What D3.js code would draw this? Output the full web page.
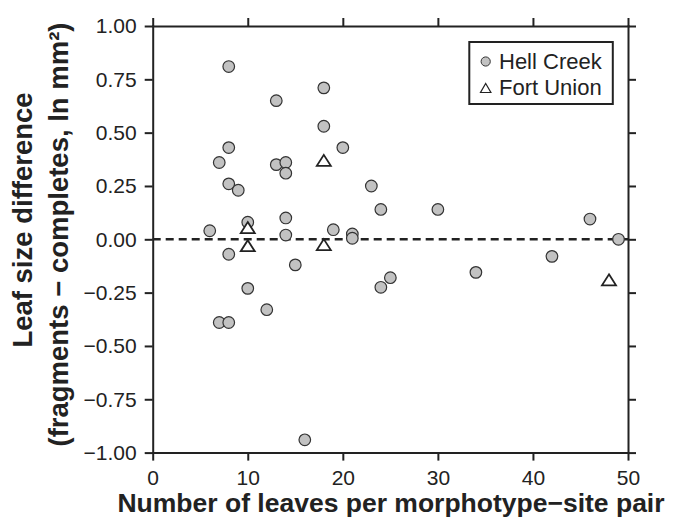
<!DOCTYPE html>
<html>
<head>
<meta charset="utf-8">
<script src="https://cdn.jsdelivr.net/npm/d3@7"></script>
<style>
  html, body { margin: 0; padding: 0; background: #fff; }
  svg { display: block; font-family: "Liberation Sans", Arial, Helvetica, sans-serif; }
</style>
</head>
<body>
<div id="chart"></div>
<script>
/* global d3 */

// Hell Creek morphotype-site pairs: leaves per pair, size difference (ln mm2)
const hellCreekLeaves = [6, 7, 7, 8, 8, 8, 8, 8, 9, 10, 10, 12, 13, 13, 14, 14, 14, 14,
  15, 16, 18, 18, 19, 20, 21, 21, 23, 24, 24, 25, 30, 34, 42, 46, 49];
const hellCreekDiff = [0.04, 0.36, -0.39, 0.81, 0.43, 0.26, -0.07, -0.39, 0.23, 0.08, -0.23,
  -0.33, 0.65, 0.35, 0.36, 0.31, 0.10, 0.02, -0.12, -0.94, 0.71, 0.53, 0.045, 0.43, 0.025,
  0.005, 0.25, 0.14, -0.225, -0.18, 0.14, -0.155, -0.08, 0.095, 0.0];

// Fort Union pairs
const fortUnionLeaves = [10, 10, 18, 18, 48];
const fortUnionDiff = [0.055, -0.03, 0.37, -0.025, -0.19];

const xTicks = [0, 10, 20, 30, 40, 50];
const yTicks = [-1, -0.75, -0.5, -0.25, 0, 0.25, 0.5, 0.75, 1];

const width = 679;
const height = 519;
const ink = '#222';

const svg = d3.select('#chart').append('svg')
  .attr('width', width)
  .attr('height', height);

const x = d3.scaleLinear().domain([0, 50]).range([152.7, 628]);
const y = d3.scaleLinear().domain([-1, 1]).range([452.6, 26]);

// frame: four axes, ticks pointing out
const styleAxis = function styleAxis(g) {
  g.select('.domain')
    .attr('stroke', ink)
    .attr('stroke-width', 2)
    .attr('stroke-linecap', 'square');
  g.selectAll('.tick line')
    .attr('stroke', ink)
    .attr('stroke-width', 2);
  g.selectAll('.tick text')
    .attr('fill', ink)
    .attr('font-size', 21);
};

svg.append('g')
  .attr('transform', `translate(${x(0)},0)`)
  .call(d3.axisLeft(y).tickValues(yTicks).tickFormat(d3.format('.2f'))
    .tickSizeInner(8).tickSizeOuter(0).tickPadding(8))
  .call(styleAxis);

svg.append('g')
  .attr('transform', `translate(0,${y(-1)})`)
  .call(d3.axisBottom(x).tickValues(xTicks).tickFormat(d3.format('d'))
    .tickSizeInner(8).tickSizeOuter(0).tickPadding(9.5))
  .call(styleAxis);

svg.append('g')
  .attr('transform', `translate(0,${y(1)})`)
  .call(d3.axisTop(x).tickValues(xTicks).tickFormat('')
    .tickSizeInner(8).tickSizeOuter(0))
  .call(styleAxis);

svg.append('g')
  .attr('transform', `translate(${x(50)},0)`)
  .call(d3.axisRight(y).tickValues(yTicks).tickFormat('')
    .tickSizeInner(8).tickSizeOuter(0))
  .call(styleAxis);

svg.selectAll('.domain').raise();

// zero line
svg.append('line')
  .attr('x1', x(0))
  .attr('x2', x(50))
  .attr('y1', y(0))
  .attr('y2', y(0))
  .attr('stroke', ink)
  .attr('stroke-width', 2.5)
  .attr('stroke-dasharray', '8,5');

// points
const hellCreek = hellCreekLeaves.map((n, i) => [n, hellCreekDiff[i]]);
const fortUnion = fortUnionLeaves.map((n, i) => [n, fortUnionDiff[i]]);
const triangle = 'M0,-5.5L7,5.5L-7,5.5Z';

svg.append('g').selectAll('circle')
  .data(hellCreek)
  .enter().append('circle')
  .attr('cx', d => x(d[0]))
  .attr('cy', d => y(d[1]))
  .attr('r', 5.8)
  .attr('fill', '#c2c2c2')
  .attr('stroke', '#333')
  .attr('stroke-width', 1.2);

svg.append('g').selectAll('path')
  .data(fortUnion)
  .enter().append('path')
  .attr('d', triangle)
  .attr('transform', d => `translate(${x(d[0])},${y(d[1])})`)
  .attr('fill', '#fff')
  .attr('stroke', ink)
  .attr('stroke-width', 1.8);

// axis titles
svg.append('text')
  .attr('x', 391)
  .attr('y', 512)
  .attr('text-anchor', 'middle')
  .attr('font-size', 26.5)
  .attr('font-weight', 'bold')
  .attr('fill', ink)
  .text('Number of leaves per morphotype\u2212site pair');

svg.append('text')
  .attr('transform', 'translate(31.7,220) rotate(-90)')
  .attr('text-anchor', 'middle')
  .attr('font-size', 27.5)
  .attr('font-weight', 'bold')
  .attr('fill', ink)
  .text('Leaf size difference');

svg.append('text')
  .attr('transform', 'translate(68.3,234.5) rotate(-90)')
  .attr('text-anchor', 'middle')
  .attr('font-size', 27.5)
  .attr('font-weight', 'bold')
  .attr('fill', ink)
  .text('(fragments \u2212 completes, ln mm\u00b2)');

// legend
const legend = svg.append('g').attr('class', 'legend');

legend.append('rect')
  .attr('x', 469.3)
  .attr('y', 42)
  .attr('width', 143.5)
  .attr('height', 62)
  .attr('fill', '#fff')
  .attr('stroke', ink)
  .attr('stroke-width', 2);

legend.append('circle')
  .attr('cx', 485.7)
  .attr('cy', 61.5)
  .attr('r', 4.6)
  .attr('fill', '#c2c2c2')
  .attr('stroke', '#333')
  .attr('stroke-width', 1);

legend.append('path')
  .attr('d', 'M0,-4.5L5.2,4.5L-5.2,4.5Z')
  .attr('transform', 'translate(485.7,88)')
  .attr('fill', '#fff')
  .attr('stroke', ink)
  .attr('stroke-width', 1.2);

legend.selectAll('text')
  .data(['Hell Creek', 'Fort Union'])
  .enter().append('text')
  .attr('x', 499)
  .attr('y', (d, i) => 69 + i * 25.7)
  .attr('font-size', 22)
  .attr('fill', ink)
  .text(d => d);
</script>
</body>
</html>
